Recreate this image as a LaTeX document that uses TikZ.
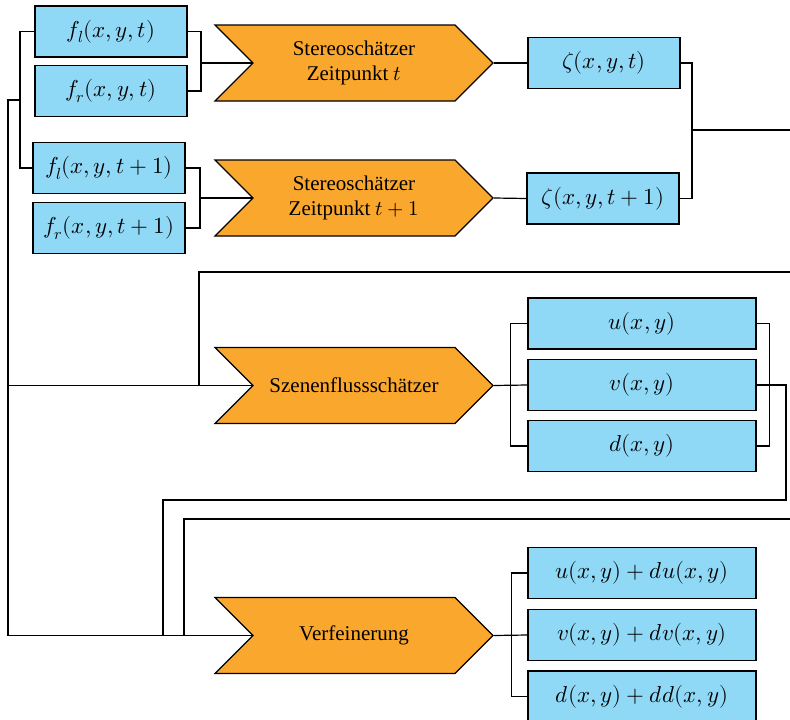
\documentclass[tikz,border=0pt]{standalone}
\usepackage{fontspec}
\usepackage{unicode-math}
\setmainfont{Liberation Serif}
\setmathfont{Latin Modern Math}
\usetikzlibrary{shapes.symbols,positioning}

\definecolor{varblue}{RGB}{143,217,247}
\definecolor{estorange}{RGB}{250,167,46}

\begin{document}
\begin{tikzpicture}[%
    x=1pt, y=-1pt,              % one unit is one pixel of the layout, y downwards
    line width=1.2pt,
    on grid,                    % node distances are centre to centre
    node distance=60pt,
    ]
% -------------------------------------------------
% Box styles
\tikzset{
  var/.style={draw, fill=varblue, rectangle, minimum width=152pt,
    minimum height=51pt, inner sep=0pt, font=\fontsize{23}{27}\selectfont},
  widevar/.style={var, minimum width=228pt},
  est/.style={draw, fill=estorange, signal, signal from=west, signal to=east,
    minimum width=278pt, minimum height=76pt, inner sep=0pt, align=center,
    font=\fontsize{21}{25}\selectfont},
}
\useasboundingbox (0,0) rectangle (790,720);
% -------------------------------------------------
% Stereo part
\node [var] (flt) at (111,31.5) {$f_l(x,y,t)$};
\node [var, below=59.5pt of flt] (frt) {$f_r(x,y,t)$};
\node [var] (flt1) at (109,168) {$f_l(x,y,t+1)$};
\node [var, below=of flt1] (frt1) {$f_r(x,y,t+1)$};

\node [est] (st0) at (354,63) {Stereoschätzer\\Zeitpunkt $t$};
\node [est] (st1) at (354,198) {Stereoschätzer\\Zeitpunkt $t+1$};

\node [var] (zt) at (604,63) {$\zeta(x,y,t)$};
\node [var] (zt1) at (603,198.5) {$\zeta(x,y,t+1)$};

% Scene flow part
\node [est] (sf) at (354,385.5) {Szenenflussschätzer};
\node [widevar] (u) at (642,323.5) {$u(x,y)$};
\node [widevar, below=61.5pt of u] (v) {$v(x,y)$};
\node [widevar, below=61pt of v] (d) {$d(x,y)$};

% Refinement part
\node [est] (vf) at (354,635.5) {Verfeinerung};
\node [widevar] (udu) at (642,573) {$u(x,y)+du(x,y)$};
\node [widevar, below=62pt of udu] (vdv) {$v(x,y)+dv(x,y)$};
\node [widevar, below=61.5pt of vdv] (ddd) {$d(x,y)+dd(x,y)$};

% -------------------------------------------------
% Junctions and loose ends
\coordinate (j0) at (201,63);
\coordinate (j1) at (200,198);
\coordinate (jz) at (692,130);
\coordinate (jin) at (20,100);
\coordinate (src) at (8,100);
\coordinate (outz) at (790,130);
\coordinate (inz) at (790,272);
\coordinate (inr) at (790,519);

% Connectors
\draw (flt.west) -| (jin) |- (flt1.west);
\draw (jin) -- (src) |- (vf.west);
\draw (src |- sf.west) -- (sf.west);

\draw (flt.east) -| (j0) |- (frt.east);
\draw (j0) -- (st0.west);
\draw (flt1.east) -| (j1) |- (frt1.east);
\draw (j1) -- (st1.west);

\draw (st0.east) -- (zt.west);
\draw (st1.east) -- (zt1.west);
\draw (zt.east) -| (jz) |- (zt1.east);
\draw (jz) -- (outz);

\draw (inz) -| (199,385.5);
\draw (sf.east) -- (v.west);
\draw (u.west) -- ++(-17,0) |- (d.west);
\draw (u.east) -- ++(13,0) |- (d.east);
\draw (v.east) -| (786,500) -| (163,635.5);

\draw (inr) -| (184,635.5);
\draw (vf.east) -- (vdv.west);
\draw (udu.west) -- ++(-16,0) |- (ddd.west);
% -------------------------------------------------
\end{tikzpicture}
\end{document}
